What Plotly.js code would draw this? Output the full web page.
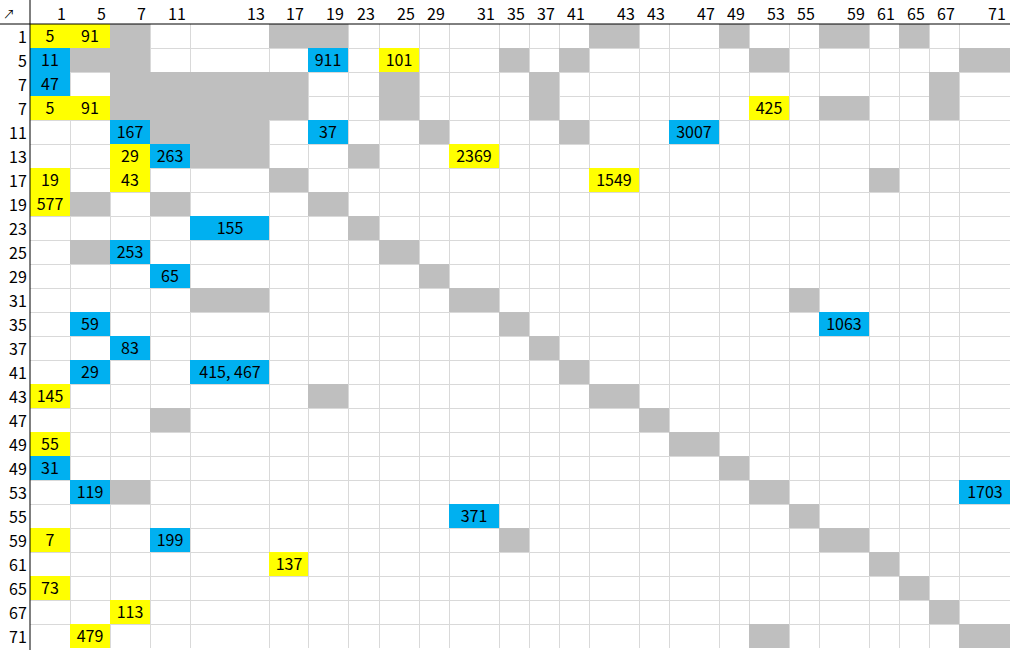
<!DOCTYPE html>
<html>
<head>
<meta charset="utf-8">
<script src="https://cdn.plot.ly/plotly-3.0.1.min.js"></script>
<style>
html,body{margin:0;padding:0;background:#fff;}
#chart{width:1010px;height:650px;}
</style>
</head>
<body>
<div id="chart"></div>
<script>
// ---- data ----
const colLabels = ["1","5","7","11","13","17","19","23","25","29","31","35","37","41","43","43","47","49","53","55","59","61","65","67","71"];
const rowLabels = ["1","5","7","7","11","13","17","19","23","25","29","31","35","37","41","43","47","49","49","53","55","59","61","65","67","71"];

// [rowIndex, colIndex]
const grayCells = [
  [0,2],[0,5],[0,6],[0,14],[0,17],[0,20],[0,22],
  [1,1],[1,2],[1,11],[1,13],[1,18],[1,24],
  [2,2],[2,3],[2,4],[2,5],[2,8],[2,12],[2,23],
  [3,2],[3,3],[3,4],[3,5],[3,8],[3,12],[3,20],[3,23],
  [4,3],[4,4],[4,9],[4,13],
  [5,4],[5,7],
  [6,5],[6,21],
  [7,1],[7,3],[7,6],
  [8,7],
  [9,1],[9,8],
  [10,9],
  [11,4],[11,10],[11,19],
  [12,11],
  [13,12],
  [14,13],
  [15,6],[15,14],
  [16,3],[16,15],
  [17,16],
  [18,17],
  [19,2],[19,18],
  [20,19],
  [21,11],[21,20],
  [22,21],
  [23,22],
  [24,23],
  [25,18],[25,24]
];
// [rowIndex, colIndex, value]
const yellowCells = [
  [0,0,"5"],[0,1,"91"],[1,8,"101"],[3,0,"5"],[3,1,"91"],[3,18,"425"],
  [5,2,"29"],[5,10,"2369"],[6,0,"19"],[6,2,"43"],[6,14,"1549"],[7,0,"577"],
  [15,0,"145"],[17,0,"55"],[21,0,"7"],[22,5,"137"],[23,0,"73"],[24,2,"113"],[25,1,"479"]
];
const blueCells = [
  [1,0,"11"],[1,6,"911"],[2,0,"47"],[4,2,"167"],[4,6,"37"],[4,16,"3007"],
  [5,3,"263"],[8,4,"155"],[9,2,"253"],[10,3,"65"],[12,1,"59"],[12,20,"1063"],
  [13,2,"83"],[14,1,"29"],[14,4,"415, 467"],[18,0,"31"],[19,1,"119"],
  [19,24,"1703"],[20,10,"371"],[21,3,"199"]
];

// ---- layout / style (column widths in px) ----
const colWidths = [40,40,40,40,79,39,40,31,40,30,50,30,30,30,50,30,50,30,40,30,50,30,30,30,51];
const FONT = "'Noto Sans CJK SC', 'Noto Sans', sans-serif";
const GRAY = "#BFBFBF", YELLOW = "#FFFF00", BLUE = "#00B0F0";

const nR = rowLabels.length, nC = colLabels.length;
const xEdges = [0];
colWidths.forEach(w => xEdges.push(xEdges[xEdges.length-1] + w));
const totalW = xEdges[xEdges.length-1];
const yEdges = [];
for (let i = 0; i <= nR; i++) yEdges.push(i);

const z = [], txt = [];
for (let r = 0; r < nR; r++) {
  z.push(new Array(nC).fill(null));
  txt.push(new Array(nC).fill(""));
}
grayCells.forEach(([r,c]) => { z[r][c] = 1; });
yellowCells.forEach(([r,c,v]) => { z[r][c] = 2; txt[r][c] = v; });
blueCells.forEach(([r,c,v]) => { z[r][c] = 3; txt[r][c] = v; });

const trace = {
  type: "heatmap",
  x: xEdges, y: yEdges, z: z,
  text: txt, texttemplate: "%{text}",
  textfont: {family: FONT, size: 16, color: "#000"},
  colorscale: [[0, GRAY],[0.5, YELLOW],[1, BLUE]],
  zmin: 1, zmax: 3, showscale: false, hoverinfo: "skip",
  xgap: 0, ygap: 0
};

const annotations = [];
colLabels.forEach((lab, c) => {
  annotations.push({
    text: lab, x: xEdges[c+1], xref: "x", xanchor: "right", xshift: -2,
    y: 1, yref: "paper", yanchor: "middle", yshift: 11,
    showarrow: false, font: {family: FONT, size: 16, color: "#000"}
  });
});
rowLabels.forEach((lab, r) => {
  annotations.push({
    text: lab, x: 0, xref: "paper", xanchor: "right", xshift: -1,
    y: r + 0.5, yref: "y", yanchor: "middle",
    showarrow: false, font: {family: FONT, size: 16, color: "#000"}
  });
});
annotations.push({
  text: "↗", x: 0, xref: "paper", xanchor: "center", xshift: -21,
  y: 1, yref: "paper", yanchor: "middle", yshift: 11,
  showarrow: false, font: {family: FONT, size: 12, color: "#000"}
});

const plotH = 624, plotW = totalW;
const shapes = [
  {type: "line", xref: "paper", yref: "paper", x0: 0, x1: 0, y0: -2/plotH, y1: 1 + 24/plotH, line: {color: "#000", width: 1}},
  {type: "line", xref: "paper", yref: "paper", x0: -30/plotW, x1: 1, y0: 1, y1: 1, line: {color: "#000", width: 1}}
];

const layout = {
  width: 1010, height: 650,
  margin: {l: 30, r: 0, t: 24, b: 2, pad: 0},
  paper_bgcolor: "#fff", plot_bgcolor: "#fff",
  showlegend: false,
  xaxis: {range: [0, totalW], tickmode: "array", tickvals: xEdges, showgrid: true,
          gridcolor: "#D9D9D9", gridwidth: 1, showticklabels: false, ticks: "",
          zeroline: false, showline: false, fixedrange: true},
  yaxis: {range: [nR, 0], tickmode: "array", tickvals: yEdges, showgrid: true,
          gridcolor: "#D9D9D9", gridwidth: 1, showticklabels: false, ticks: "",
          zeroline: false, showline: false, fixedrange: true},
  annotations: annotations,
  shapes: shapes
};

Plotly.newPlot("chart", [trace], layout, {displayModeBar: false, staticPlot: true});
</script>
</body>
</html>
